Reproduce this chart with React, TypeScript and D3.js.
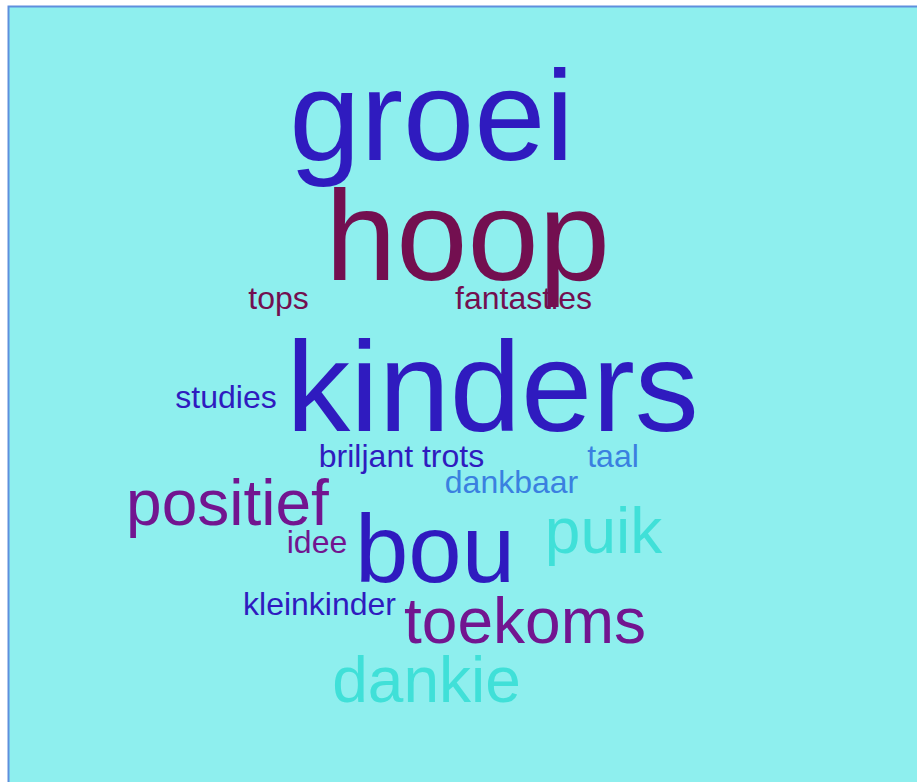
import React from "react";
import * as d3 from "d3";

const words = ["groei", "hoop", "kinders", "tops", "fantasties", "studies", "briljant trots", "taal", "dankbaar", "positief", "idee", "bou", "puik", "kleinkinder", "toekoms", "dankie"];
const weights = [4, 4, 4, 1, 1, 1, 1, 1, 1, 2, 1, 3, 2, 1, 2, 2];
const colorGroups = ["blue", "maroon", "blue", "maroon", "maroon", "blue", "blue", "sky", "sky", "purple", "purple", "blue", "turq", "blue", "purple", "turq"];
// layout offsets from cloud centre (cloud units)
const cloudX = [-18.5, 17.5, 42.5, -171.5, 73.5, -224, -48.5, 163, 61.5, -222.5, -133, -15, 153.5, -130.5, 75, -23.5];
const cloudY = [-230, -110, 41, -81, -81, 18, 77, 77, 103, 135, 163, 192, 163, 225, 253, 312];

const W = 917;
const H = 782;

export default function App() {
  const size = d3.scaleLinear().domain([1, 4]).range([32, 128]);
  const xs = d3.scaleLinear().domain([-450, 450]).range([0, 900]);
  const ys = d3.scaleLinear().domain([-390, 390]).range([0, 780]);
  const color = d3
    .scaleOrdinal<string, string>()
    .domain(["blue", "maroon", "purple", "sky", "turq"])
    .range(["#2f1bbf", "#730f50", "#721590", "#3a80e0", "#40e0d8"]);

  return (
    <svg
      width={W}
      height={H}
      style={{ position: "fixed", left: 0, top: 0, display: "block" }}
    >
      <rect x={0} y={0} width={W} height={H} fill="#ffffff" />
      <rect x={8.5} y={6.5} width={1000} height={1000} fill="#8eefee" stroke="#5f8fdd" strokeWidth={2} />
      <g fontFamily="'Liberation Sans', Arial, sans-serif">
        {words.map((w, i) => (
          <text
            key={w}
            x={xs(cloudX[i])}
            y={ys(cloudY[i])}
            textAnchor="middle"
            fontSize={size(weights[i])}
            fill={color(colorGroups[i])}
          >
            {w}
          </text>
        ))}
      </g>
    </svg>
  );
}
